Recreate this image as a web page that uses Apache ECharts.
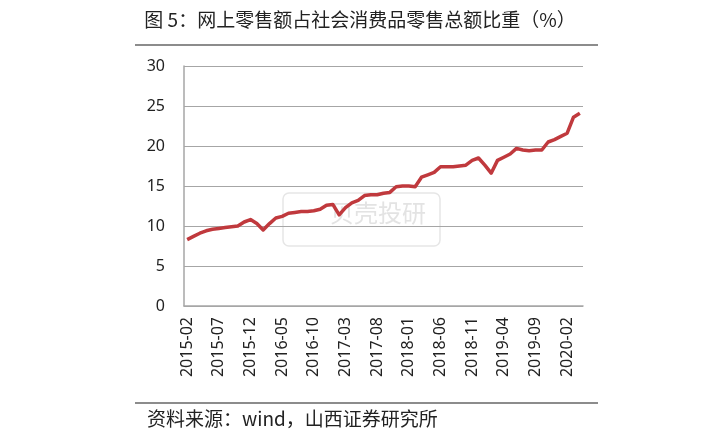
<!DOCTYPE html>
<html>
<head>
<meta charset="utf-8">
<script src="https://cdn.jsdelivr.net/npm/echarts@6/dist/echarts.min.js"></script>
<style>
html,body{margin:0;padding:0;background:#fff;}
#main{width:720px;height:440px;}
</style>
</head>
<body>
<div id="main"></div>
<script>
// Categories: months 2015-02 .. 2020-04
const categories = [
  '2015-02','2015-03','2015-04','2015-05','2015-06','2015-07','2015-08','2015-09','2015-10','2015-11','2015-12',
  '2016-01','2016-02','2016-03','2016-04','2016-05','2016-06','2016-07','2016-08','2016-09','2016-10','2016-11','2016-12',
  '2017-01','2017-02','2017-03','2017-04','2017-05','2017-06','2017-07','2017-08','2017-09','2017-10','2017-11','2017-12',
  '2018-01','2018-02','2018-03','2018-04','2018-05','2018-06','2018-07','2018-08','2018-09','2018-10','2018-11','2018-12',
  '2019-01','2019-02','2019-03','2019-04','2019-05','2019-06','2019-07','2019-08','2019-09','2019-10','2019-11','2019-12',
  '2020-01','2020-02','2020-03','2020-04'
];
// 网上零售额占社会消费品零售总额比重 (%)
const shareValues = [
  8.3, 8.7, 9.1, 9.4, 9.6, 9.7, 9.8, 9.9, 10.0, 10.5, 10.8,
  10.3, 9.5, 10.3, 11.0, 11.2, 11.6, 11.7, 11.8, 11.8, 11.9, 12.1, 12.6,
  12.7, 11.4, 12.3, 12.9, 13.2, 13.8, 13.9, 13.9, 14.1, 14.2, 14.9, 15.0,
  15.0, 14.9, 16.1, 16.4, 16.7, 17.4, 17.4, 17.4, 17.5, 17.6, 18.2, 18.5,
  17.6, 16.6, 18.2, 18.6, 19.0, 19.7, 19.5, 19.4, 19.5, 19.5, 20.5, 20.8,
  21.2, 21.6, 23.6, 24.1
];
const yTicks = {min: 0, max: 30, interval: 5};
const titleText = '图 5：网上零售额占社会消费品零售总额比重（%）';
const sourceText = '资料来源：wind，山西证券研究所';

const chart = echarts.init(document.getElementById('main'), null, {renderer: 'canvas'});
const cjk = '"Noto Sans CJK SC", "Noto Sans", sans-serif';
chart.setOption({
  animation: false,
  backgroundColor: '#ffffff',
  grid: {left: 184, top: 66, right: 137, bottom: 134, containLabel: false},
  graphic: [
    {type: 'text', left: 'center', top: 10, style: {text: titleText, font: '19px ' + cjk, fill: '#222'}},
    {type: 'line', shape: {x1: 135, y1: 45, x2: 598, y2: 45}, style: {stroke: '#8c8c8c', lineWidth: 2}},
    {type: 'line', shape: {x1: 135, y1: 403, x2: 598, y2: 403}, style: {stroke: '#8c8c8c', lineWidth: 2}},
    {type: 'text', left: 147, top: 409, style: {text: sourceText, font: '19px ' + cjk, fill: '#222'}},
    {type: 'rect', z: 0, shape: {x: 283, y: 193, width: 157, height: 53, r: 6}, style: {fill: 'rgba(255,255,255,0)', stroke: '#e6e6e6', lineWidth: 1.5}},
    {type: 'text', z: 0, left: 330, top: 201, style: {text: '贝壳投研', font: '24px ' + cjk, fill: '#e3e3e3'}}
  ],
  xAxis: {
    type: 'category',
    data: categories,
    boundaryGap: true,
    axisLine: {show: true, lineStyle: {color: '#a6a6a6', width: 1.5}},
    axisTick: {show: false},
    axisLabel: {interval: 4, rotate: 90, margin: 11, color: '#222', fontSize: 16, fontFamily: '"Noto Sans", sans-serif'},
    splitLine: {show: false}
  },
  yAxis: {
    type: 'value',
    min: yTicks.min, max: yTicks.max, interval: yTicks.interval,
    axisLine: {show: true, lineStyle: {color: '#a6a6a6', width: 1.5}},
    axisTick: {show: false},
    axisLabel: {margin: 19, color: '#222', fontSize: 16, fontFamily: '"Noto Sans", sans-serif'},
    splitLine: {show: true, lineStyle: {color: '#a6a6a6', width: 1.2}}
  },
  series: [{
    type: 'line',
    data: shareValues,
    symbol: 'none',
    smooth: false,
    z: 5,
    lineStyle: {color: '#c0393d', width: 3.5, join: 'round'}
  }]
});
</script>
</body>
</html>
